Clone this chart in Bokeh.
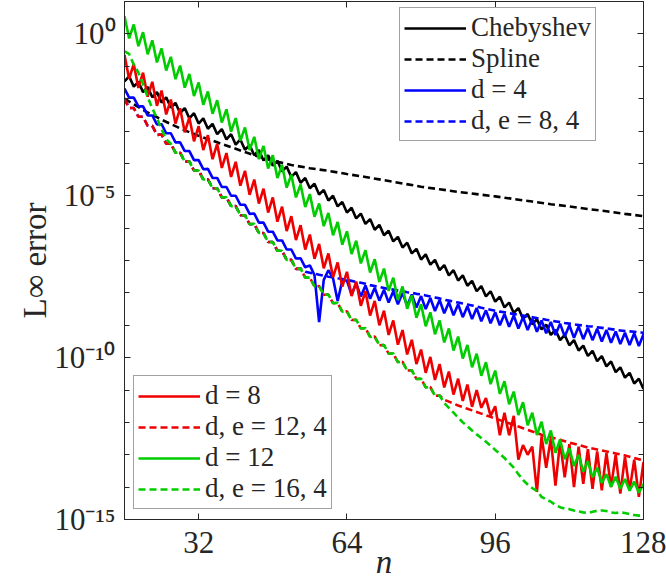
import math
from bokeh.plotting import figure
from bokeh.models import (Legend, LegendItem, FixedTicker, CustomJSTickFormatter,
                          LinearAxis, LogAxis, InlineStyleSheet)
from bokeh.embed import file_html
from bokeh.resources import INLINE

# ---------------- data (log10 of the L-infinity error) ----------------
n = list(range(16, 129))
x_ticks = [32, 64, 96, 128]
y_major = [1e-15, 1e-10, 1e-5, 1e0]
y_minor = [10.0 ** k for k in range(-15, 2)]

# Chebyshev: even n (16..128) and odd n (17..127)
cheb_even = [-1.47, -1.63, -1.80, -1.96, -2.12, -2.28, -2.45, -2.61, -2.77, -2.93, -3.10, -3.26, -3.42,
             -3.58, -3.75, -3.91, -4.07, -4.25, -4.42, -4.60, -4.77, -4.96, -5.15, -5.33, -5.52, -5.70,
             -5.87, -6.05, -6.22, -6.41, -6.60, -6.78, -6.97, -7.13, -7.30, -7.46, -7.62, -7.78, -7.95,
             -8.11, -8.27, -8.45, -8.62, -8.80, -8.97, -9.13, -9.30, -9.46, -9.62, -9.78, -9.95, -10.11,
             -10.27, -10.45, -10.62, -10.80, -10.97]
cheb_odd = [-1.31, -1.48, -1.64, -1.80, -1.96, -2.13, -2.29, -2.45, -2.61, -2.78, -2.94, -3.10, -3.26,
            -3.43, -3.59, -3.75, -3.92, -4.10, -4.27, -4.45, -4.63, -4.82, -5.00, -5.19, -5.37, -5.55,
            -5.72, -5.90, -6.08, -6.27, -6.45, -6.64, -6.81, -6.98, -7.14, -7.30, -7.46, -7.63, -7.79,
            -7.95, -8.12, -8.30, -8.47, -8.65, -8.81, -8.98, -9.14, -9.30, -9.46, -9.63, -9.79, -9.95,
            -10.12, -10.30, -10.47, -10.65]

# Spline (n = 16, 20, ..., 128)
spline_n = list(range(16, 129, 4))
spline_log = [-2.0, -2.35, -2.65, -2.92, -3.15, -3.35, -3.55, -3.75, -3.92, -4.05, -4.15, -4.23, -4.33,
              -4.42, -4.52, -4.62, -4.72, -4.8, -4.88, -4.95, -5.02, -5.1, -5.18, -5.26, -5.33, -5.41,
              -5.48, -5.56, -5.63]

# shared staircase of the d,e dashed curves, n = 16..84
common_dashed = [-2.01, -2.29, -2.29, -2.56, -2.56, -2.84, -2.84, -3.12, -3.11, -3.39, -3.39, -3.67,
                 -3.67, -3.94, -3.94, -4.22, -4.22, -4.50, -4.49, -4.77, -4.77, -5.05, -5.05, -5.32,
                 -5.32, -5.60, -5.60, -5.88, -5.87, -6.15, -6.15, -6.43, -6.43, -6.70, -6.70, -6.98,
                 -6.98, -7.26, -7.25, -7.53, -7.53, -7.80, -7.79, -8.06, -8.05, -8.32, -8.31, -8.58,
                 -8.57, -8.84, -8.83, -9.10, -9.09, -9.36, -9.35, -9.62, -9.61, -9.88, -9.87, -10.14,
                 -10.13, -10.40, -10.39, -10.66, -10.65, -10.92, -10.91, -11.18, -11.17]

# d = 4 (solid), n = 16..64 and 65..128
d4_head = [-1.69, -1.97, -1.97, -2.24, -2.24, -2.52, -2.52, -2.80, -2.79, -3.07, -3.07, -3.35, -3.35,
           -3.62, -3.62, -3.90, -3.90, -4.18, -4.17, -4.45, -4.45, -4.73, -4.73, -5.00, -5.00, -5.28,
           -5.28, -5.56, -5.55, -5.83, -5.83, -6.11, -6.11, -6.38, -6.38, -6.66, -6.66, -6.94, -6.93,
           -7.21, -7.15, -7.45, -8.90, -7.60, -7.30, -7.55, -8.25, -7.62, -7.62]
d4_tail = [-8.05, -7.71, -8.11, -7.77, -8.18, -7.84, -8.24, -7.90, -8.30, -7.95, -8.35, -8.00, -8.40,
           -8.05, -8.45, -8.10, -8.50, -8.16, -8.56, -8.22, -8.63, -8.29, -8.69, -8.35, -8.75, -8.41,
           -8.81, -8.47, -8.88, -8.54, -8.94, -8.60, -9.00, -8.65, -9.05, -8.70, -9.10, -8.75, -9.15,
           -8.80, -9.20, -8.85, -9.25, -8.90, -9.30, -8.95, -9.35, -9.00, -9.39, -9.04, -9.43, -9.08,
           -9.46, -9.11, -9.50, -9.15, -9.54, -9.19, -9.58, -9.23, -9.61, -9.25, -9.64, -9.28]

# d,e = 8,4 (dashed) after leaving the shared staircase, n = 54..128
de84_tail = [-7.25, -7.35, -7.38, -7.41, -7.44, -7.47, -7.50, -7.52, -7.55, -7.57, -7.60, -7.63, -7.66,
             -7.69, -7.72, -7.76, -7.79, -7.82, -7.85, -7.88, -7.90, -7.93, -7.95, -7.98, -8.00, -8.03,
             -8.05, -8.08, -8.11, -8.14, -8.17, -8.21, -8.24, -8.27, -8.30, -8.33, -8.36, -8.39, -8.42,
             -8.46, -8.49, -8.52, -8.55, -8.58, -8.60, -8.63, -8.65, -8.68, -8.70, -8.73, -8.75, -8.78,
             -8.80, -8.83, -8.85, -8.88, -8.90, -8.93, -8.95, -8.97, -8.99, -9.01, -9.03, -9.04, -9.06,
             -9.08, -9.10, -9.12, -9.14, -9.16, -9.18, -9.19, -9.20, -9.22, -9.23]

# d = 8 (solid): even n 16..92, odd n 17..91, then n = 93..128
d8_even = [-0.65, -0.93, -1.20, -1.48, -1.75, -2.03, -2.30, -2.58, -2.85, -3.13, -3.40, -3.68, -3.95,
           -4.23, -4.50, -4.78, -5.05, -5.34, -5.63, -5.91, -6.20, -6.49, -6.78, -7.06, -7.35, -7.65,
           -7.95, -8.25, -8.55, -8.85, -9.15, -9.45, -9.75, -9.98, -10.20, -10.43, -10.65, -10.83, -11.00]
d8_odd = [-1.39, -1.67, -1.94, -2.22, -2.49, -2.77, -3.04, -3.32, -3.59, -3.87, -4.14, -4.42, -4.69,
          -4.97, -5.24, -5.52, -5.80, -6.09, -6.37, -6.66, -6.95, -7.24, -7.52, -7.81, -8.10, -8.40,
          -8.70, -9.00, -9.30, -9.60, -9.90, -10.20, -10.47, -10.69, -10.92, -11.14, -11.34, -11.52]
d8_tail = [-11.55, -11.25, -11.8, -11.5, -12.4, -11.7, -12.4, -11.8, -13.15, -12.7, -13.0, -12.75,
           -14.15, -12.43, -13.4, -12.5, -13.95, -12.6, -13.7, -12.67, -14.0, -12.75, -13.9, -12.83,
           -14.05, -12.9, -14.1, -12.95, -14.0, -13.0, -14.2, -13.07, -14.1, -13.15, -14.3, -13.22]

# d,e = 12,4 (dashed) after the shared staircase, n = 85..128
de124_tail = [-11.3, -11.36, -11.42, -11.48, -11.53, -11.58, -11.63, -11.68, -11.73, -11.78, -11.83,
              -11.88, -11.93, -11.98, -12.03, -12.08, -12.13, -12.18, -12.23, -12.28, -12.33, -12.38,
              -12.42, -12.46, -12.5, -12.54, -12.58, -12.62, -12.66, -12.7, -12.74, -12.78, -12.81,
              -12.84, -12.87, -12.9, -12.93, -12.96, -12.99, -13.02, -13.06, -13.1, -13.14, -13.18]

# d = 12 (solid): even n 16..128, odd n 17..127
d12_even = [0.54, 0.29, 0.05, -0.20, -0.45, -0.71, -0.98, -1.24, -1.50, -1.78, -2.05, -2.33, -2.60,
            -2.89, -3.18, -3.46, -3.75, -4.05, -4.35, -4.65, -4.95, -5.24, -5.53, -5.81, -6.10, -6.39,
            -6.68, -6.96, -7.25, -7.53, -7.80, -8.08, -8.35, -8.60, -8.85, -9.10, -9.35, -9.61, -9.88,
            -10.14, -10.40, -10.73, -11.05, -11.38, -11.70, -11.98, -12.25, -12.53, -12.80, -13.00,
            -13.20, -13.40, -13.60, -13.68, -13.75, -13.83, -13.90]
d12_odd = [-0.14, -0.38, -0.63, -0.88, -1.13, -1.40, -1.66, -1.92, -2.19, -2.47, -2.74, -3.02, -3.30,
           -3.59, -3.87, -4.16, -4.45, -4.75, -5.05, -5.35, -5.65, -5.94, -6.22, -6.51, -6.80, -7.09,
           -7.37, -7.66, -7.94, -8.22, -8.49, -8.77, -9.03, -9.28, -9.53, -9.78, -10.03, -10.30, -10.56,
           -10.82, -11.12, -11.44, -11.77, -12.09, -12.39, -12.67, -12.94, -13.14, -13.35, -13.52,
           -13.70, -13.87, -13.99, -14.05, -14.11, -14.17]

# d,e = 16,4 (dashed): n = 16..25 before joining, n = 85..128 after leaving
de164_head = [-0.54, -0.62, -0.95, -1.2, -1.55, -1.95, -2.3, -2.6, -2.95, -3.25]
de164_tail = [-11.4, -11.55, -11.7, -11.85, -12.0, -12.12, -12.25, -12.37, -12.48, -12.6, -12.72,
              -12.85, -12.97, -13.1, -13.25, -13.4, -13.6, -13.78, -13.92, -14.03, -14.12, -14.3,
              -14.38, -14.45, -14.55, -14.62, -14.66, -14.68, -14.72, -14.75, -14.78, -14.8, -14.76,
              -14.73, -14.72, -14.74, -14.78, -14.8, -14.78, -14.8, -14.83, -14.86, -14.88, -14.85]


def interleave(even, odd):
    out = []
    for i, e in enumerate(even):
        out.append(e)
        if i < len(odd):
            out.append(odd[i])
    return out


def pw(vals):
    return [10.0 ** v for v in vals]


series = [
    ("Chebyshev", n, interleave(cheb_even, cheb_odd), "black", "solid"),
    ("Spline", spline_n, spline_log, "black", "7 4"),
    ("d = 4", n, d4_head + d4_tail, "#0000ff", "solid"),
    ("d, e = 8, 4", n, common_dashed[:38] + de84_tail, "#0000ff", "7 4"),
    ("d = 8", n, interleave(d8_even, d8_odd) + d8_tail, "#ee0000", "solid"),
    ("d, e = 12, 4", n, common_dashed + de124_tail, "#ee0000", "7 4"),
    ("d = 12", n, interleave(d12_even, d12_odd), "#00cc00", "solid"),
    ("d, e = 16, 4", n, de164_head + common_dashed[10:] + de164_tail, "#00cc00", "7 4"),
]

FONT = '"Liberation Serif"'
AX = "#262626"
CSS_TEXT = (":host { font-family: 'Liberation Serif', serif !important; }\n"
            "text, tspan, div, span { font-family: 'Liberation Serif', serif !important; }\n")


def add_css(model):
    try:
        model.stylesheets = [InlineStyleSheet(css=CSS_TEXT)]
    except Exception:
        pass


p = figure(width=666, height=584, x_range=(16, 128), y_range=(1e-15, 10), y_axis_type="log",
           output_backend="svg", toolbar_location=None,
           min_border_left=124, min_border_right=23, min_border_top=1, min_border_bottom=65)
add_css(p)
p.xgrid.visible = False
p.ygrid.visible = False
p.outline_line_color = AX
p.outline_line_width = 1
p.background_fill_color = "white"
p.border_fill_color = "white"

renderers = {}
for label, xs, ys, color, dash in series:
    r = p.line(xs, pw(ys), line_color=color, line_width=2.6, line_dash=dash)
    renderers[label] = r

sup = ("const m = {'-':'\\u207b','0':'\\u2070','1':'\\u00b9','2':'\\u00b2','3':'\\u00b3','4':'\\u2074',"
       "'5':'\\u2075','6':'\\u2076','7':'\\u2077','8':'\\u2078','9':'\\u2079'};"
       "const e = Math.round(Math.log10(tick));"
       "return '10' + String(e).split('').map(c => m[c]).join('');")

xa = p.xaxis[0]
xa.ticker = FixedTicker(ticks=x_ticks, minor_ticks=[])
ya = p.yaxis[0]
ya.ticker = FixedTicker(ticks=y_major, minor_ticks=y_minor)
ya.formatter = CustomJSTickFormatter(code=sup)

for ax in (xa, ya):
    add_css(ax)
    ax.major_tick_in = 6
    ax.major_tick_out = 0
    ax.minor_tick_in = 5
    ax.minor_tick_out = 0
    ax.axis_line_color = AX
    ax.major_tick_line_color = AX
    ax.minor_tick_line_color = AX
    ax.major_label_text_font = FONT
    ax.major_label_text_font_size = "31px"
    ax.major_label_text_color = AX
    ax.axis_label_text_font = FONT
    ax.axis_label_text_color = AX
    ax.axis_label_text_font_size = "33px"
xa.major_label_standoff = 12
ya.major_label_standoff = 9

xa.axis_label = "n"
xa.axis_label_text_font_style = "italic"
xa.axis_label_standoff = -12

ya.axis_label = "L\u221e error"
ya.axis_label_text_font_style = "normal"
ya.axis_label_standoff = -2

empty = CustomJSTickFormatter(code="return '';")
top = LinearAxis(ticker=FixedTicker(ticks=x_ticks, minor_ticks=[]), formatter=empty,
                 major_tick_in=6, major_tick_out=0, minor_tick_in=0, minor_tick_out=0,
                 major_label_standoff=0, major_label_text_font_size="1px",
                 axis_line_color=AX, major_tick_line_color=AX)
p.add_layout(top, "above")
right = LogAxis(ticker=FixedTicker(ticks=y_major, minor_ticks=y_minor), formatter=empty,
                major_tick_in=6, major_tick_out=0, minor_tick_in=5, minor_tick_out=0,
                major_label_standoff=0, major_label_text_font_size="1px",
                axis_line_color=AX, major_tick_line_color=AX, minor_tick_line_color=AX)
p.add_layout(right, "right")


def make_legend(labels, loc):
    items = [LegendItem(label=l, renderers=[renderers[l]]) for l in labels]
    leg = Legend(items=items, location=loc, label_text_font=FONT, label_text_font_size="27px",
                 label_text_line_height=1.0,
                 label_text_color=AX, glyph_width=62, glyph_height=28, label_height=28,
                 label_standoff=5, spacing=0, padding=4, margin=0,
                 border_line_color="#444444", border_line_width=1,
                 background_fill_color="white", background_fill_alpha=1.0)
    add_css(leg)
    return leg


p.add_layout(make_legend(["Chebyshev", "Spline", "d = 4", "d, e = 8, 4"], (275, 378)))
p.add_layout(make_legend(["d = 8", "d, e = 12, 4", "d = 12", "d, e = 16, 4"], (9, 10)))

open("out.html", "w").write(file_html(p, INLINE))
